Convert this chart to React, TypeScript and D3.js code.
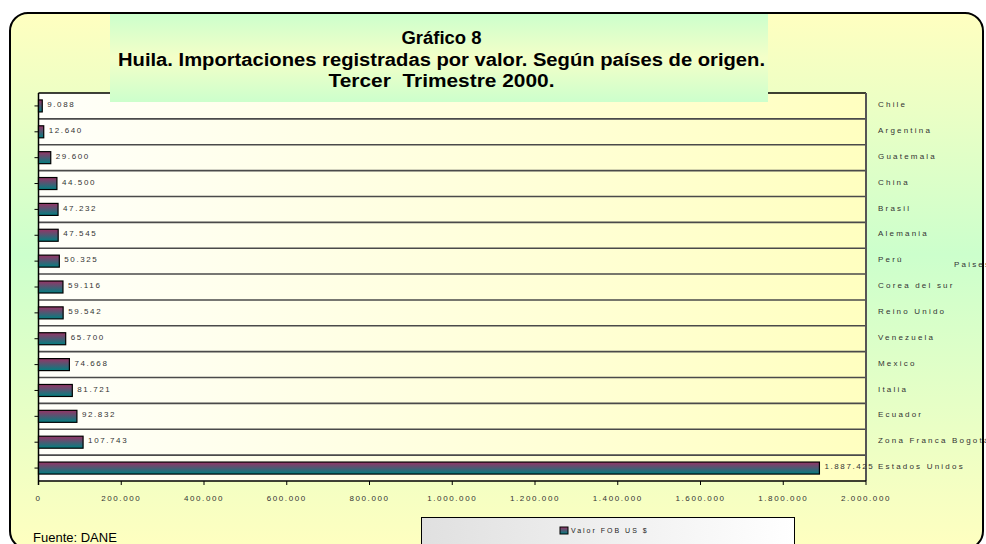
import * as d3 from "d3";
import { useEffect } from "react";

// countries top to bottom, as in the chart
const paises = [
  "Chile",
  "Argentina",
  "Guatemala",
  "China",
  "Brasil",
  "Alemania",
  "Perú",
  "Corea del sur",
  "Reino Unido",
  "Venezuela",
  "Mexico",
  "Italia",
  "Ecuador",
  "Zona Franca Bogotá",
  "Estados Unidos",
];
const valorFob = [
  9088, 12640, 29600, 44500, 47232, 47545, 50325, 59116, 59542, 65700, 74668,
  81721, 92832, 107743, 1887425,
];
const xTicks = [0, 200000, 400000, 600000, 800000, 1000000, 1200000, 1400000, 1600000, 1800000, 2000000];
const titulo = [
  "Gráfico 8",
  "Huila. Importaciones registradas por valor. Según países de origen.",
  "Tercer  Trimestre 2000.",
];
const tituloAncho = [80, 647, 226];

const W = 986,
  H = 544;
const plot = { left: 38.5, right: 866, top: 93, bottom: 481 };
const fmt = d3.formatLocale({ decimal: ",", thousands: ".", grouping: [3], currency: ["$", ""] }).format(",d");
const small = { fontFamily: "'Liberation Sans', Arial, sans-serif", fontSize: 8, letterSpacing: 1.6, fill: "#333" };

const App = () => {
  useEffect(() => {
    document.body.style.margin = "0";
  }, []);

  const x = d3.scaleLinear().domain([0, 2000000]).range([plot.left, plot.right]);
  const y = d3.scaleBand().domain(paises).range([plot.top, plot.bottom]);
  const barH = 12;

  return (
    <svg width={W} height={H} style={{ display: "block", position: "absolute", left: 0, top: 0 }}>
      <defs>
        <linearGradient id="fondo" x1="0" y1="0" x2="0" y2="1">
          <stop offset="0" stopColor="#ffffc0" />
          <stop offset="0.45" stopColor="#ccffcc" />
          <stop offset="1" stopColor="#ffffc0" />
        </linearGradient>
        <linearGradient id="tituloBg" x1="0" y1="0" x2="0" y2="1">
          <stop offset="0" stopColor="#ccffcc" />
          <stop offset="0.5" stopColor="#f4ffc8" />
          <stop offset="1" stopColor="#ccffcc" />
        </linearGradient>
        <linearGradient id="plotBg" x1="0" y1="0" x2="1" y2="0">
          <stop offset="0" stopColor="#fffffa" />
          <stop offset="1" stopColor="#ffffc0" />
        </linearGradient>
        <linearGradient id="barra" x1="0" y1="0" x2="0" y2="1">
          <stop offset="0" stopColor="#993366" />
          <stop offset="1" stopColor="#008080" />
        </linearGradient>
        <linearGradient id="leyenda" x1="0" y1="0" x2="1" y2="0">
          <stop offset="0" stopColor="#e0e0e0" />
          <stop offset="1" stopColor="#ffffff" />
        </linearGradient>
      </defs>

      <rect x={10} y={13} width={973} height={536} rx={18} fill="url(#fondo)" stroke="#000" strokeWidth={2} />

      {/* plot area */}
      <rect x={plot.left} y={plot.top} width={plot.right - plot.left} height={plot.bottom - plot.top} fill="url(#plotBg)" />
      {paises.slice(1).map((p) => (
        <line key={p} x1={plot.left} x2={plot.right} y1={y(p)!} y2={y(p)!} stroke="#4a4a4a" strokeWidth={1.6} />
      ))}
      <line x1={plot.left} x2={plot.right} y1={plot.top} y2={plot.top} stroke="#000" strokeWidth={1.5} />
      <line x1={plot.right} x2={plot.right} y1={plot.top} y2={plot.bottom} stroke="#555" strokeWidth={2} />
      <line x1={plot.left} x2={plot.right} y1={plot.bottom} y2={plot.bottom} stroke="#000" strokeWidth={1.5} />
      <line x1={plot.left} x2={plot.left} y1={plot.top} y2={plot.bottom + 4} stroke="#000" strokeWidth={1.5} />

      {paises.map((p, i) => {
        const cy = y(p)! + y.bandwidth() / 2;
        return (
          <g key={p}>
            <line x1={plot.left - 4} x2={plot.left} y1={cy} y2={cy} stroke="#000" />
            <rect x={x(0)} y={cy - barH / 2} width={x(valorFob[i]) - x(0)} height={barH} fill="url(#barra)" stroke="#000" strokeWidth={1.2} />
            <text x={x(valorFob[i]) + 5} y={cy - 1} dominantBaseline="middle" style={small}>
              {fmt(valorFob[i])}
            </text>
            <text x={878} y={cy - 1} dominantBaseline="middle" style={{ ...small, letterSpacing: 2.2 }}>
              {p}
            </text>
          </g>
        );
      })}

      {xTicks.map((t) => (
        <g key={t}>
          <line x1={x(t)} x2={x(t)} y1={plot.bottom} y2={plot.bottom + 4} stroke="#000" />
          <text x={x(t)} y={499} textAnchor="middle" dominantBaseline="middle" style={small}>
            {fmt(t)}
          </text>
        </g>
      ))}

      <text x={954} y={265} dominantBaseline="middle" style={{ ...small, letterSpacing: 2.2 }}>
        Paises
      </text>

      {/* title */}
      <rect x={110} y={14} width={658} height={88} fill="url(#tituloBg)" />
      {titulo.map((t, i) => (
        <text
          key={i}
          x={441.5}
          y={44 + i * 21.5}
          textAnchor="middle"
          textLength={tituloAncho[i]}
          lengthAdjust="spacingAndGlyphs"
          style={{ fontFamily: "'Liberation Sans', Arial, sans-serif", fontSize: 18, fontWeight: "bold", fill: "#000", whiteSpace: "pre" }}
        >
          {t}
        </text>
      ))}

      {/* legend */}
      <rect x={421.5} y={517.5} width={373} height={40} fill="url(#leyenda)" stroke="#000" />
      <rect x={560} y={527} width={8} height={7} fill="url(#barra)" stroke="#000" />
      <text x={571} y={531} dominantBaseline="middle" style={{ ...small, fontSize: 7, letterSpacing: 2, fill: "#222" }}>
        Valor FOB US $
      </text>

      <text x={33} y={542} style={{ fontFamily: "'Liberation Sans', Arial, sans-serif", fontSize: 13, fill: "#000" }}>
        Fuente: DANE
      </text>
    </svg>
  );
};

export default App;
